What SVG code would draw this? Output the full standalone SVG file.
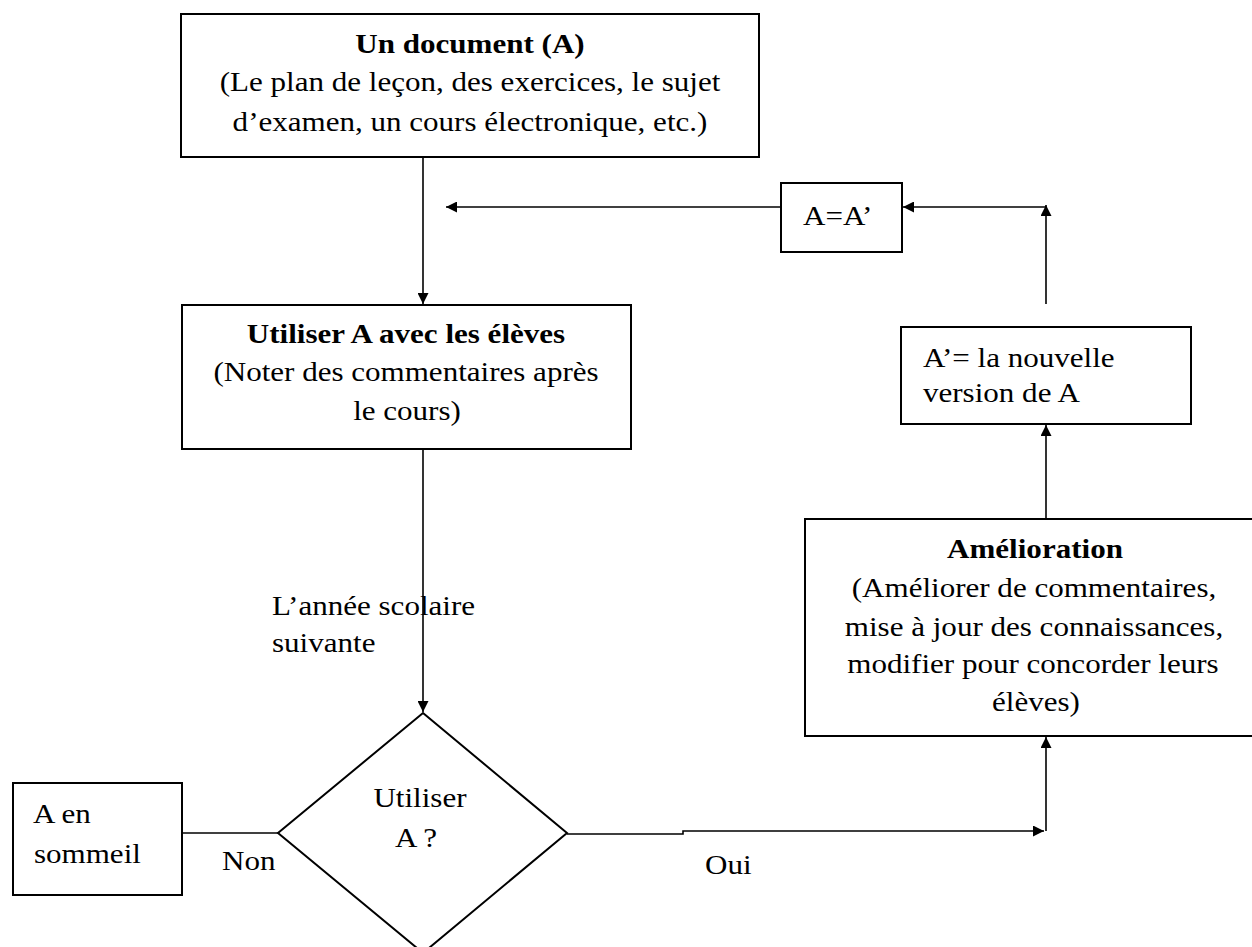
<svg xmlns="http://www.w3.org/2000/svg" width="1252" height="947" viewBox="0 0 1252 947">
<style>
.box{fill:#fff;stroke:#000;stroke-width:2}
.ln{fill:none;stroke:#000;stroke-width:1.6}
text{font-family:"Liberation Serif","Times New Roman",serif;font-size:27px;fill:#000}
.b{font-weight:bold}
.m{text-anchor:middle}
</style>
<defs>
<marker id="ah" viewBox="0 0 10 10" refX="10" refY="5" markerWidth="11" markerHeight="11" markerUnits="userSpaceOnUse" orient="auto">
<path d="M0,0 L10,5 L0,10 z" fill="#000"/>
</marker>
</defs>
<rect width="1252" height="947" fill="#fff"/>
<g id="connectors">
<path class="ln" d="M423,157 V304" marker-end="url(#ah)"/>
<path class="ln" d="M781,207 H446" marker-end="url(#ah)"/>
<path class="ln" d="M1046,304 V205" marker-end="url(#ah)"/>
<path class="ln" d="M1046,207 H903" marker-end="url(#ah)"/>
<path class="ln" d="M1046,519 V425" marker-end="url(#ah)"/>
<path class="ln" d="M423,449 V712" marker-end="url(#ah)"/>
<path class="ln" d="M567,834 H683 V831 H1044" marker-end="url(#ah)"/>
<path class="ln" d="M1046,831 V737" marker-end="url(#ah)"/>
<path class="ln" d="M182,833 H278"/>
</g>
<g id="doc">
<rect class="box" x="181" y="14" width="578" height="143"/>
<text class="b m" transform="translate(470 0) scale(1.15 1)" x="0" y="53">Un document (A)</text>
<text class="m" transform="translate(470 0) scale(1.15 1)" x="0" y="91">(Le plan de leçon, des exercices, le sujet</text>
<text class="m" transform="translate(470 0) scale(1.15 1)" x="0" y="131">d’examen, un cours électronique, etc.)</text>
</g>
<g id="utiliser">
<rect class="box" x="182" y="305" width="449" height="144"/>
<text class="b m" transform="translate(406 0) scale(1.15 1)" x="0" y="343">Utiliser A avec les élèves</text>
<text class="m" transform="translate(406 0) scale(1.15 1)" x="0" y="381">(Noter des commentaires après</text>
<text class="m" transform="translate(407 0) scale(1.15 1)" x="0" y="420">le cours)</text>
</g>
<g id="aegal">
<rect class="box" x="781" y="183" width="121" height="69"/>
<text transform="translate(803 0) scale(1.15 1)" x="0" y="225">A=A’</text>
</g>
<g id="nouvelle">
<rect class="box" x="901" y="327" width="290" height="97"/>
<text transform="translate(923 0) scale(1.15 1)" x="0" y="367">A’= la nouvelle</text>
<text transform="translate(923 0) scale(1.15 1)" x="0" y="402">version de A</text>
</g>
<g id="amelioration">
<rect class="box" x="805" y="519" width="458" height="217"/>
<text class="b m" transform="translate(1035 0) scale(1.15 1)" x="0" y="558">Amélioration</text>
<text class="m" transform="translate(1034 0) scale(1.15 1)" x="0" y="597">(Améliorer de commentaires,</text>
<text class="m" transform="translate(1034 0) scale(1.15 1)" x="0" y="636">mise à jour des connaissances,</text>
<text class="m" transform="translate(1033 0) scale(1.15 1)" x="0" y="673">modifier pour concorder leurs</text>
<text class="m" transform="translate(1036 0) scale(1.15 1)" x="0" y="711">élèves)</text>
</g>
<g id="decision">
<polygon class="box" points="423,713 567,833 423,953 278,833"/>
<text class="m" transform="translate(420 0) scale(1.15 1)" x="0" y="807">Utiliser</text>
<text class="m" transform="translate(416 0) scale(1.15 1)" x="0" y="847">A ?</text>
</g>
<g id="sommeil">
<rect class="box" x="13" y="783" width="169" height="112"/>
<text transform="translate(33 0) scale(1.15 1)" x="0" y="823">A en</text>
<text transform="translate(34 0) scale(1.15 1)" x="0" y="863">sommeil</text>
</g>
<g id="labels">
<text transform="translate(272 0) scale(1.15 1)" x="0" y="615">L’année scolaire</text>
<text transform="translate(272 0) scale(1.15 1)" x="0" y="652">suivante</text>
<text transform="translate(222 0) scale(1.15 1)" x="0" y="870">Non</text>
<text transform="translate(705 0) scale(1.15 1)" x="0" y="874">Oui</text>
</g>
</svg>
